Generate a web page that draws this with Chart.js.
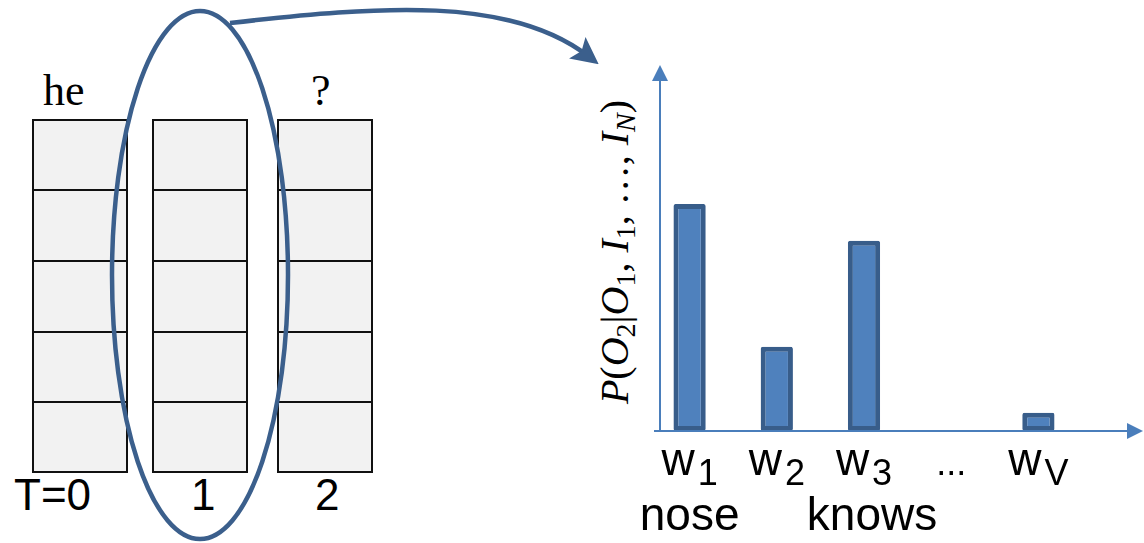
<!DOCTYPE html>
<html>
<head>
<meta charset="utf-8">
<script src="https://cdn.jsdelivr.net/npm/chart.js@4"></script>
<style>
  html, body { margin: 0; padding: 0; background: #fff; }
  #stage { position: relative; width: 1144px; height: 543px; overflow: hidden; }
  .cell { position: absolute; box-sizing: border-box; background: #f2f2f2; border: 2px solid #111; }
  .lbl { position: absolute; white-space: nowrap; line-height: 1; }
  .serif { font-family: "Liberation Serif", "Times New Roman", serif; font-size: 44px; }
  .sans { font-family: "Liberation Sans", Arial, sans-serif; font-size: 44px; }
  #ylabel { position: absolute; left: 615px; top: 252px; white-space: nowrap;
            font-family: "Liberation Serif", serif; font-size: 40px; line-height: 1;
            transform: translate(-50%, -50%) rotate(-90deg); }
  #ylabel i { font-style: italic; }
  #ylabel sub { font-size: 0.7em; vertical-align: -0.25em; line-height: 0; }
  #chartBox { position: absolute; left: 560px; top: 40px; width: 584px; height: 503px; }
  svg { position: absolute; left: 0; top: 0; }
</style>
</head>
<body>
<div id="stage">
  <div id="grid"></div>
  <div class="lbl serif" style="left:43px; top:69px;">he</div>
  <div class="lbl serif" style="left:311px; top:69px;">?</div>
  <div class="lbl sans" style="left:14px; top:473px;">T=0</div>
  <div class="lbl sans" style="left:191px; top:473px;">1</div>
  <div class="lbl sans" style="left:315px; top:473px;">2</div>

  <div id="ylabel"><i>P</i>(<i>O</i><sub>2</sub>|<i>O</i><sub>1</sub>, <i>I</i><sub>1</sub>, …, <i>I</i><sub><i>N</i></sub>)</div>

  <div id="chartBox"><canvas id="probChart" width="584" height="503"></canvas></div>

  <svg width="1144" height="543">
    <defs>
      <marker id="head" markerWidth="6" markerHeight="6" refX="3" refY="3" orient="auto" markerUnits="strokeWidth">
        <path d="M0,0 L6,3 L0,6 L1.2,3 Z" fill="#3b5f8c"></path>
      </marker>
    </defs>
    <ellipse cx="200" cy="275" rx="88" ry="264" fill="none" stroke="#3b5f8c" stroke-width="4.5"></ellipse>
    <path d="M230,23 C380,6 510,-4 588,56" fill="none" stroke="#3b5f8c" stroke-width="4.5" marker-end="url(#head)"></path>
  </svg>
</div>

<script>
// left side: three time steps, five hidden units each
const stepCols = [32, 152, 277];
const rowTops = [119, 189, 260, 331, 401, 471];

// bar chart data
const categories = ['w1', 'w2', 'w3', '...', 'wV'];
const tickMain = ['w', 'w', 'w', '...', 'w'];
const tickSub = ['1', '2', '3', '', 'V'];
const tickWords = ['nose', '', 'knows', '', ''];
const probs = [0.62, 0.23, 0.52, null, 0.05];

const grid = document.getElementById('grid');
stepCols.forEach(x => {
    for (let r = 0; r < 5; r++) {
        const d = document.createElement('div');
        d.className = 'cell';
        d.style.left = x + 'px';
        d.style.top = rowTops[r] + 'px';
        d.style.width = '96px';
        d.style.height = (rowTops[r + 1] - rowTops[r] + 2) + 'px';
        grid.appendChild(d);
    }
});

const axisBlue = '#4a7ebb';
const mainFont = '46px "Liberation Sans", Arial, sans-serif';
const subFont = '36px "Liberation Sans", Arial, sans-serif';

// axes with arrow heads plus the subscripted tick labels
const decorations = {
    id: 'decorations',
    afterDatasetsDraw(chart) {
        const { ctx, chartArea, scales } = chart;
        const xs = scales.x, ys = scales.y;
        const base = ys.getPixelForValue(0);
        const yAxisX = chartArea.left + 14;
        const right = chart.width - 1;
        ctx.save();
        ctx.strokeStyle = axisBlue;
        ctx.fillStyle = axisBlue;
        ctx.lineWidth = 2;
        ctx.beginPath();
        ctx.moveTo(yAxisX - 6, base);
        ctx.lineTo(right - 12, base);
        ctx.moveTo(yAxisX, base);
        ctx.lineTo(yAxisX, chartArea.top + 12);
        ctx.stroke();
        ctx.beginPath();
        ctx.moveTo(right, base);
        ctx.lineTo(right - 16, base - 8);
        ctx.lineTo(right - 16, base + 8);
        ctx.closePath();
        ctx.fill();
        ctx.beginPath();
        ctx.moveTo(yAxisX, chartArea.top);
        ctx.lineTo(yAxisX - 8, chartArea.top + 16);
        ctx.lineTo(yAxisX + 8, chartArea.top + 16);
        ctx.closePath();
        ctx.fill();

        ctx.fillStyle = '#000';
        ctx.textBaseline = 'alphabetic';
        categories.forEach((c, i) => {
            const cx = xs.getPixelForValue(i);
            ctx.font = tickSub[i] ? mainFont : subFont;
            const mw = ctx.measureText(tickMain[i]).width;
            ctx.font = subFont;
            const sw = tickSub[i] ? ctx.measureText(tickSub[i]).width + 3 : 0;
            const x0 = cx - (mw + sw) / 2;
            ctx.font = tickSub[i] ? mainFont : subFont;
            ctx.textAlign = 'left';
            ctx.fillText(tickMain[i], x0, base + 44);
            if (tickSub[i]) {
                ctx.font = subFont;
                ctx.fillText(tickSub[i], x0 + mw + 3, base + 54);
            }
            if (tickWords[i]) {
                ctx.font = mainFont;
                ctx.textAlign = 'center';
                ctx.fillText(tickWords[i], cx + (i === 2 ? 8 : 0), base + 99);
            }
        });
        ctx.restore();
    }
};

new Chart(document.getElementById('probChart'), {
    type: 'bar',
    data: {
        labels: categories,
        datasets: [{
            data: probs,
            backgroundColor: '#4f81bd',
            borderColor: '#385d8a',
            borderWidth: 5,
            borderRadius: 2,
            borderSkipped: false,
            categoryPercentage: 1,
            barPercentage: 0.37
        }]
    },
    options: {
        responsive: false,
        animation: false,
        layout: { padding: { left: 86, right: 62, top: 25, bottom: 112 } },
        plugins: { legend: { display: false }, tooltip: { enabled: false } },
        scales: {
            x: { display: false },
            y: { display: false, min: 0, max: 1 }
        }
    },
    plugins: [decorations]
});
</script>
</body>
</html>
